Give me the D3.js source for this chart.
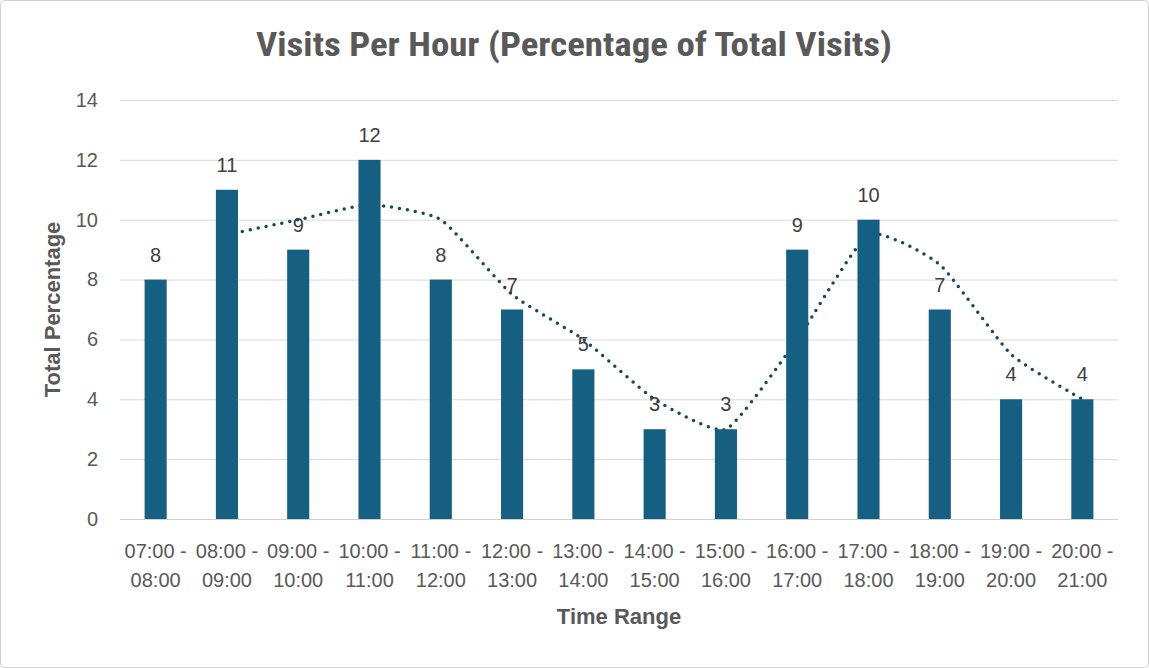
<!DOCTYPE html>
<html lang="en">
  <head>
    <meta charset="UTF-8" />
    <title>Visits Per Hour</title>
    <script src="https://d3js.org/d3.v7.min.js"></script>
    <style>
      body {
        margin: 0;
        background: #fff;
        font-family: "Liberation Sans", Arial, sans-serif;
      }
    </style>
  </head>
  <body>
    <div id="chart"></div>
    <script>
      const timeStarts = ["07:00", "08:00", "09:00", "10:00", "11:00", "12:00", "13:00",
        "14:00", "15:00", "16:00", "17:00", "18:00", "19:00", "20:00"]
      const timeEnds = ["08:00", "09:00", "10:00", "11:00", "12:00", "13:00", "14:00",
        "15:00", "16:00", "17:00", "18:00", "19:00", "20:00", "21:00"]
      const visits = [8, 11, 9, 12, 8, 7, 5, 3, 3, 9, 10, 7, 4, 4]
      // dotted trend line (2 period moving average), starts at the second category
      const trend = [null, 9.5, 10, 10.5, 10, 7.5, 6, 4, 3, 6, 9.5, 8.5, 5.5, 4]
      const yTicks = [0, 2, 4, 6, 8, 10, 12, 14]

      const W = 1149, H = 668
      const margin = { top: 100, right: 31, bottom: 149, left: 120 }
      const width = W - margin.left - margin.right
      const height = H - margin.top - margin.bottom

      const svg = d3.select("#chart").append("svg").attr("width", W).attr("height", H)

      svg.append("rect")
        .attr("x", 0.5).attr("y", 0.5)
        .attr("width", W - 1).attr("height", H - 1)
        .attr("rx", 4)
        .attr("fill", "#fff")
        .attr("stroke", "#d0d0d0")

      svg.append("text")
        .attr("x", 574).attr("y", 56)
        .attr("text-anchor", "middle")
        .attr("fill", "#595959")
        .attr("font-family", "'Liberation Sans Narrow', 'Arial Narrow', 'Roboto Condensed', sans-serif")
        .attr("font-weight", "bold")
        .attr("font-size", 33)
        .attr("textLength", 636)
        .attr("lengthAdjust", "spacingAndGlyphs")
        .text("Visits Per Hour (Percentage of Total Visits)")

      const g = svg.append("g").attr("transform", `translate(${margin.left},${margin.top})`)

      const x = d3.scaleBand().domain(d3.range(visits.length)).range([0, width]).paddingInner(0.69).paddingOuter(0.345)
      const y = d3.scaleLinear().domain([0, 14]).range([height, 0])

      // gridlines
      g.append("g")
        .call(d3.axisLeft(y).tickValues(yTicks).tickSize(-width).tickFormat(""))
        .call(a => a.select(".domain").remove())
        .call(a => a.selectAll("line").attr("stroke", "#d9d9d9"))

      // y tick labels
      g.append("g")
        .call(d3.axisLeft(y).tickValues(yTicks).tickSize(0).tickPadding(22))
        .call(a => a.select(".domain").remove())
        .call(a => a.selectAll("text")
          .attr("fill", "#595959")
          .attr("font-size", 20)
          .attr("font-family", "'Liberation Sans', Arial, sans-serif"))

      // x axis
      const xAxis = g.append("g")
        .attr("transform", `translate(0,${height})`)
        .call(d3.axisBottom(x).tickSize(0).tickFormat(""))
      xAxis.select(".domain").attr("stroke", "#d0d0d0")
      xAxis.selectAll(".tick").each(function (d) {
        const t = d3.select(this).append("text")
          .attr("fill", "#595959")
          .attr("font-size", 20)
          .attr("font-family", "'Liberation Sans', Arial, sans-serif")
          .attr("text-anchor", "middle")
        t.append("tspan").attr("x", 0).attr("y", 39).text(timeStarts[d] + " -")
        t.append("tspan").attr("x", 0).attr("y", 68).text(timeEnds[d])
      })

      // trend line (behind bars)
      const line = d3.line()
        .defined(d => d != null)
        .x((d, i) => x(i) + x.bandwidth() / 2)
        .y(d => y(d))
        .curve(d3.curveCardinal.tension(0.5))

      g.append("path")
        .datum(trend)
        .attr("d", line)
        .attr("fill", "none")
        .attr("stroke", "#16485e")
        .attr("stroke-width", 3.5)
        .attr("stroke-linecap", "round")
        .attr("stroke-dasharray", "0 8")

      g.selectAll(".bar")
        .data(visits)
        .join("rect")
        .attr("class", "bar")
        .attr("x", (d, i) => x(i))
        .attr("y", d => y(d))
        .attr("width", x.bandwidth())
        .attr("height", d => height - y(d))
        .attr("fill", "#156082")

      g.selectAll(".lbl")
        .data(visits)
        .join("text")
        .attr("class", "lbl")
        .attr("x", (d, i) => x(i) + x.bandwidth() / 2)
        .attr("y", d => y(d) - 18)
        .attr("text-anchor", "middle")
        .attr("fill", "#404040")
        .attr("font-size", 20)
        .text(d => d)

      svg.append("text")
        .attr("x", margin.left + width / 2).attr("y", 624)
        .attr("text-anchor", "middle")
        .attr("fill", "#595959")
        .attr("font-weight", "bold")
        .attr("font-size", 22)
        .text("Time Range")

      svg.append("text")
        .attr("transform", `translate(60,${margin.top + height / 2}) rotate(-90)`)
        .attr("text-anchor", "middle")
        .attr("fill", "#595959")
        .attr("font-weight", "bold")
        .attr("font-size", 22)
        .text("Total Percentage")
    </script>
  </body>
</html>
